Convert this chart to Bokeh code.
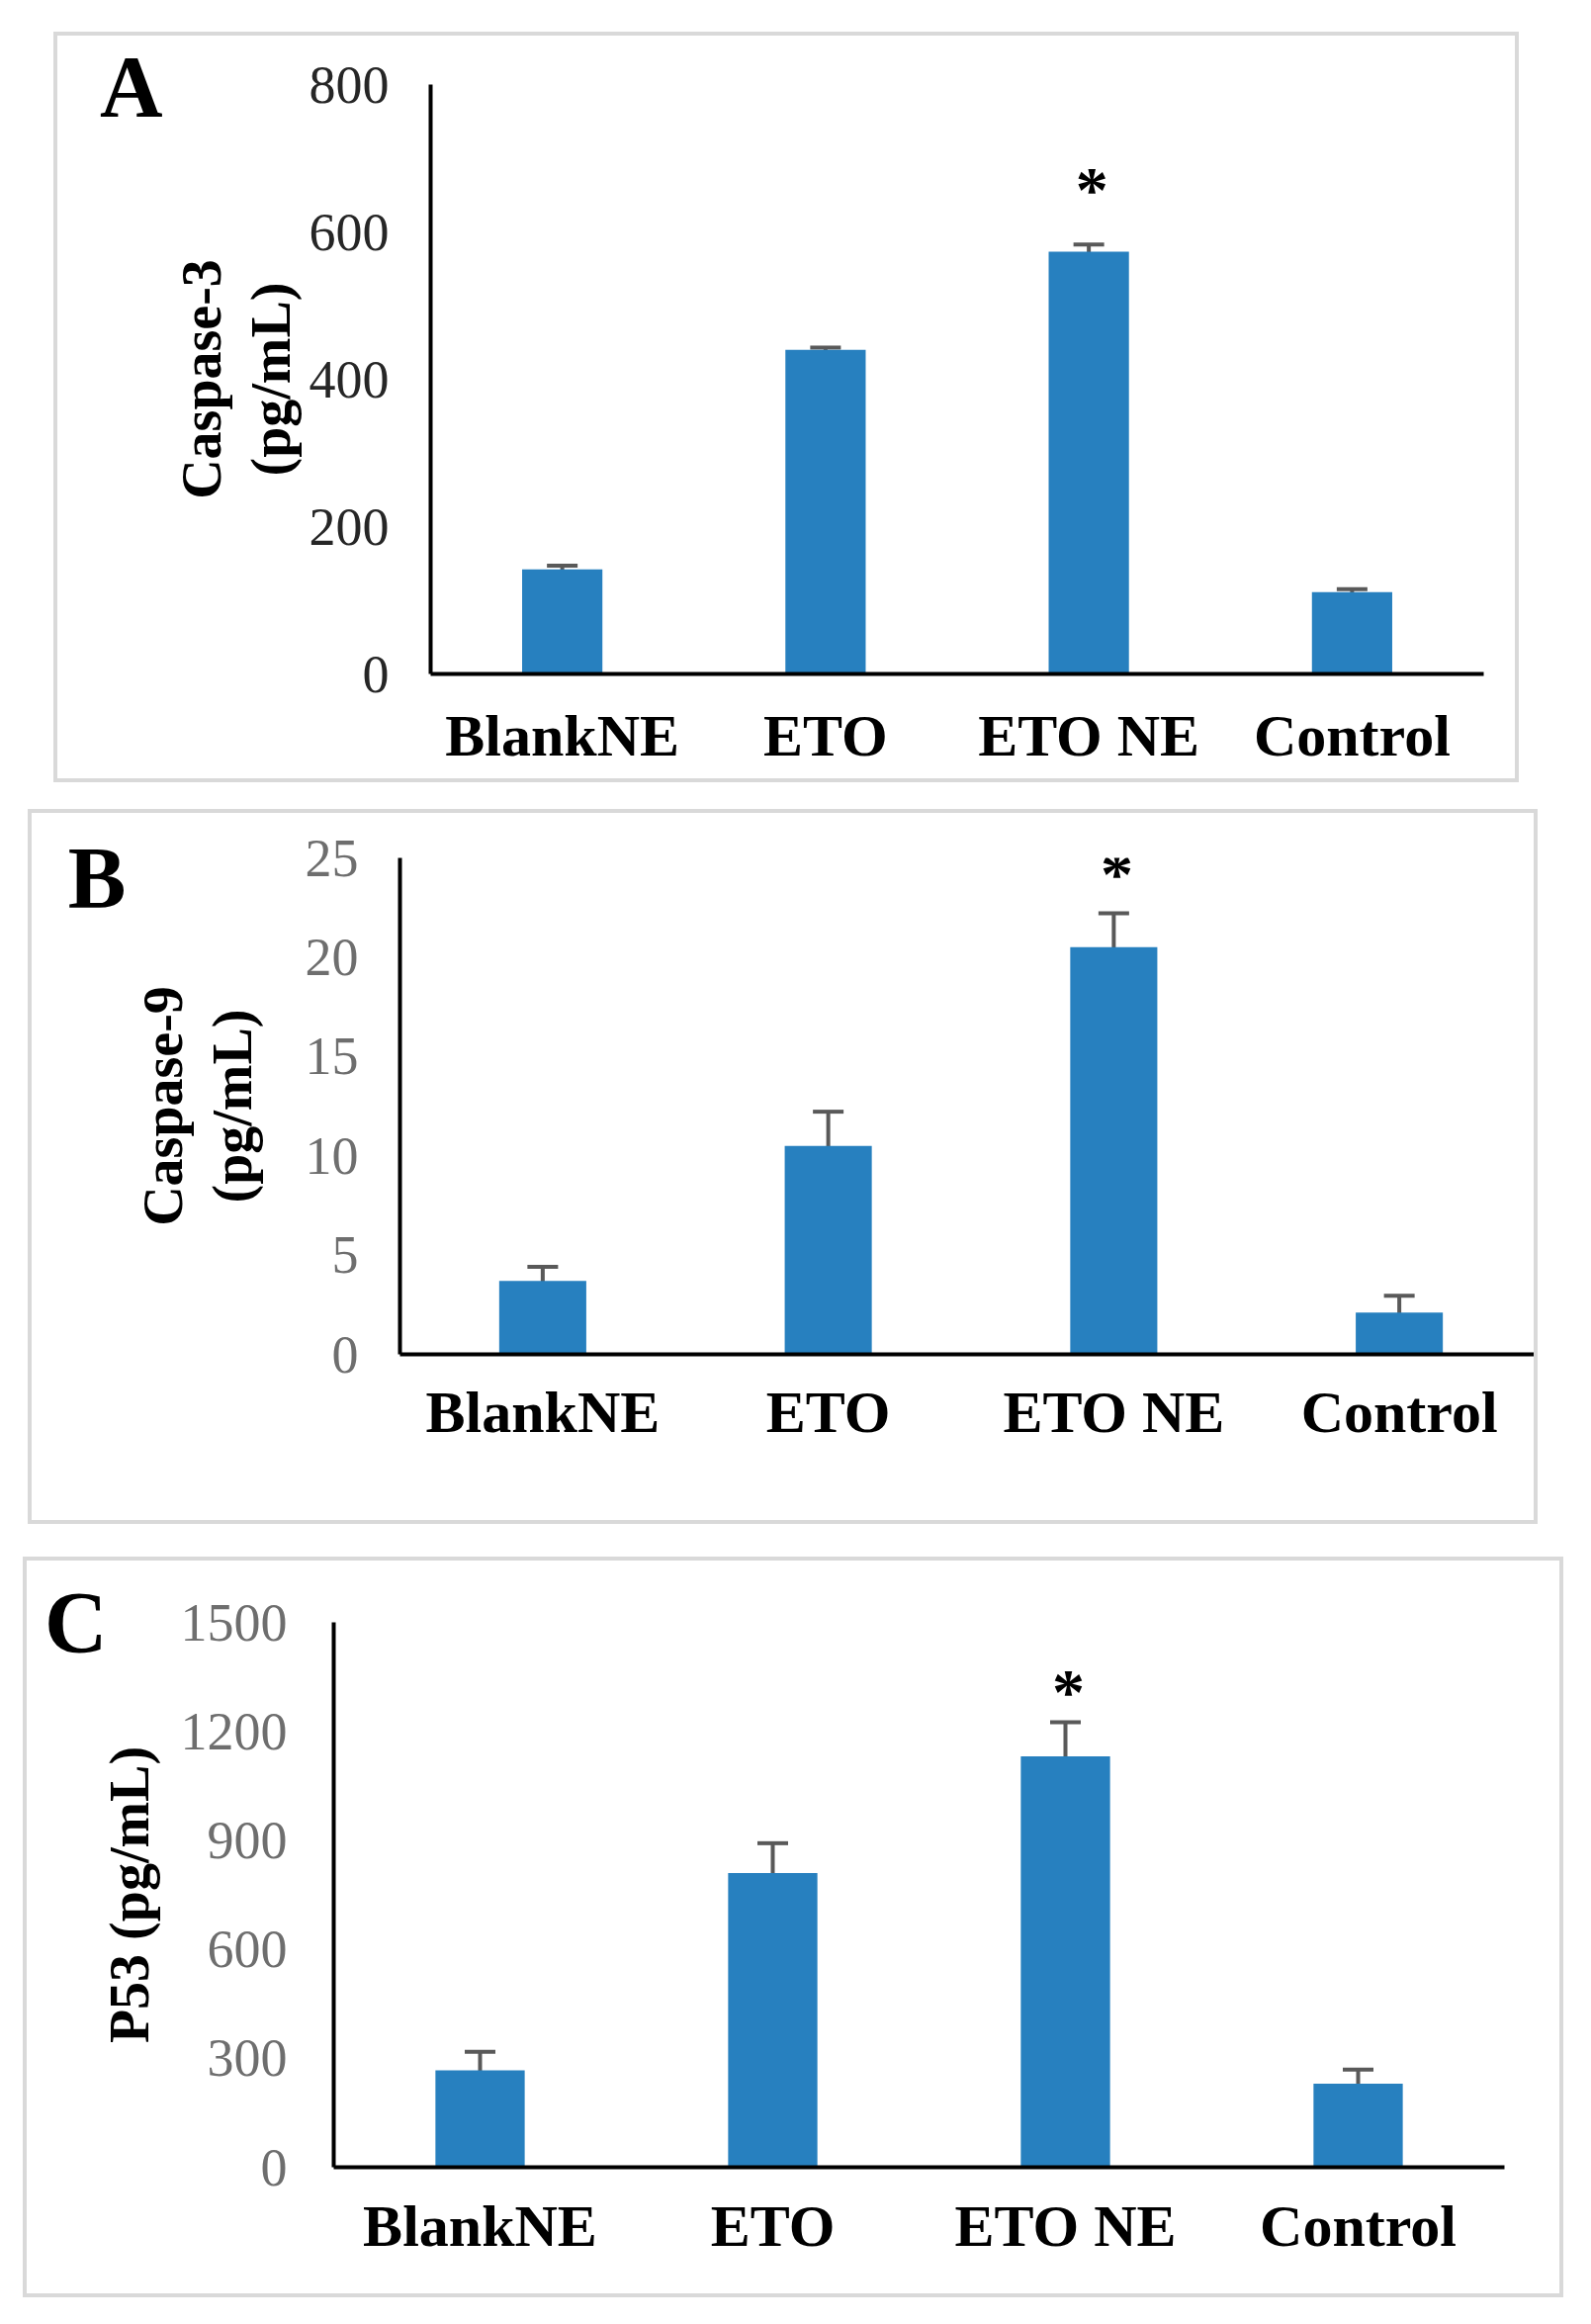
from bokeh.plotting import figure
from bokeh.layouts import column
from bokeh.models import (FactorRange, Range1d, FixedTicker, ColumnDataSource,
                          Whisker, TeeHead, Label, LinearAxis)
from bokeh.embed import file_html
from bokeh.resources import INLINE

# ---------------- data ----------------
categories = ["BlankNE", "ETO", "ETO NE", "Control"]

casp3 = [142, 440, 573, 111]
casp3_err = [5, 3, 10, 4]
casp3_ticks = [0, 200, 400, 600, 800]

casp9 = [3.70, 10.5, 20.5, 2.11]
casp9_err = [0.71, 1.72, 1.71, 0.84]
casp9_ticks = [0, 5, 10, 15, 20, 25]

p53 = [267, 810, 1131, 230]
p53_err = [51, 82, 94, 39]
p53_ticks = [0, 300, 600, 900, 1200, 1500]

SERIF = "Liberation Serif"
BAR = "#2780BF"
ERR = "#595959"
BORDER = 4


def make_panel(letter, vals, errs, ticks, ylabel, cfg):
    w, h = cfg["size"]
    mbl, mbr, mbt, mbb = cfg["borders"]
    ymax = ticks[-1]
    p = figure(width=w, height=h, x_range=FactorRange(factors=categories),
               y_range=Range1d(0, ymax), output_backend="svg",
               toolbar_location=None, min_border_left=mbl, min_border_right=mbr,
               min_border_top=mbt, min_border_bottom=mbb,
               margin=cfg["margin"], frame_align=False,
               styles={"border": f"{BORDER}px solid #d9d9d9"})
    p.outline_line_color = None
    p.grid.visible = False

    src = ColumnDataSource(dict(
        cat=categories, val=vals,
        upper=[v + e for v, e in zip(vals, errs)],
        lower=[v - e for v, e in zip(vals, errs)]))
    p.vbar(x="cat", top="val", width=0.305, source=src, fill_color=BAR,
           line_color=None)
    wh = Whisker(base="cat", upper="upper", lower="lower", source=src,
                 dimension="height", line_color=ERR, line_width=4,
                 upper_head=TeeHead(size=31, line_color=ERR, line_width=4),
                 lower_head=TeeHead(size=31, line_color=ERR, line_width=4))
    p.add_layout(wh)

    # y axis
    ya = p.yaxis[0]
    ya.ticker = FixedTicker(ticks=ticks)
    ya.major_tick_line_color = None
    ya.minor_tick_line_color = None
    ya.major_tick_out = 0
    ya.major_tick_in = 0
    ya.minor_tick_out = 0
    ya.minor_tick_in = 0
    ya.axis_line_color = "black"
    ya.axis_line_width = 4
    ya.major_label_standoff = cfg["tick_standoff"]
    ya.major_label_text_font = SERIF
    ya.major_label_text_font_size = "54px"
    ya.major_label_text_color = cfg["tick_color"]
    ya.axis_label = ylabel
    ya.axis_label_text_font = SERIF
    ya.axis_label_text_font_style = "bold"
    ya.axis_label_text_font_size = "56px"
    ya.axis_label_text_color = "black"
    ya.axis_label_text_line_height = 1.12
    ya.axis_label_standoff = cfg["label_standoff"]

    # x axis
    xa = p.xaxis[0]
    xa.major_tick_line_color = None
    xa.minor_tick_line_color = None
    xa.major_tick_out = 0
    xa.major_tick_in = 0
    xa.minor_tick_out = 0
    xa.minor_tick_in = 0
    xa.axis_line_color = "black"
    xa.axis_line_width = 4
    xa.major_label_standoff = cfg["cat_standoff"]
    xa.major_label_text_font = SERIF
    xa.major_label_text_font_style = "bold"
    xa.major_label_text_font_size = "60px"
    xa.major_label_text_color = "black"

    # panel letter: an outer left axis carrying a single labelled tick
    fh = h - 2 * BORDER - mbt - mbb
    lpos = min(cfg["letter_y"], fh)
    p.extra_y_ranges = {"letter": Range1d(0, fh)}
    la = LinearAxis(y_range_name="letter", ticker=FixedTicker(ticks=[lpos]),
                    major_label_overrides={lpos: letter},
                    axis_line_color=None, major_tick_line_color=None,
                    minor_tick_line_color=None, major_tick_out=0,
                    major_tick_in=0, minor_tick_out=0, minor_tick_in=0,
                    major_label_standoff=cfg["letter_standoff"],
                    major_label_text_font=SERIF,
                    major_label_text_font_style="bold",
                    major_label_text_font_size="88px",
                    major_label_text_color="black")
    p.add_layout(la, "left")

    # significance star
    i = categories.index("ETO NE")
    p.add_layout(Label(x=i + 0.5, y=vals[i] + errs[i] + cfg["star_pad"],
                       x_offset=3, text="*", text_font=SERIF,
                       text_font_style="bold", text_font_size="66px",
                       text_align="center", text_baseline="alphabetic",
                       text_color="black"))
    return p


pA = make_panel("A", casp3, casp3_err, casp3_ticks, "Caspase-3\n(pg/mL)", dict(
    size=(1482, 759), borders=(377, 40, 49, 114), margin=(32, 0, 0, 54),
    tick_standoff=42, label_standoff=5, cat_standoff=29, tick_color="#262626",
    letter_y=586, letter_standoff=6, star_pad=75))

pB = make_panel("B", casp9, casp9_err, casp9_ticks, "Caspase-9\n(pg/mL)", dict(
    size=(1527, 723), borders=(372, 0, 45, 176), margin=(27, 0, 0, 28),
    tick_standoff=42, label_standoff=40, cat_standoff=25, tick_color="#6e6e6e",
    letter_y=474, letter_standoff=4, star_pad=2.0))

pC = make_panel("C", p53, p53_err, p53_ticks, "P53 (pg/mL)", dict(
    size=(1558, 749), borders=(310, 64, 62, 136), margin=(33, 0, 0, 23),
    tick_standoff=47, label_standoff=18, cat_standoff=26, tick_color="#6e6e6e",
    letter_y=545, letter_standoff=-12, star_pad=84))

layout = column(pA, pB, pC, spacing=0)
open("out.html", "w").write(file_html(layout, INLINE))
